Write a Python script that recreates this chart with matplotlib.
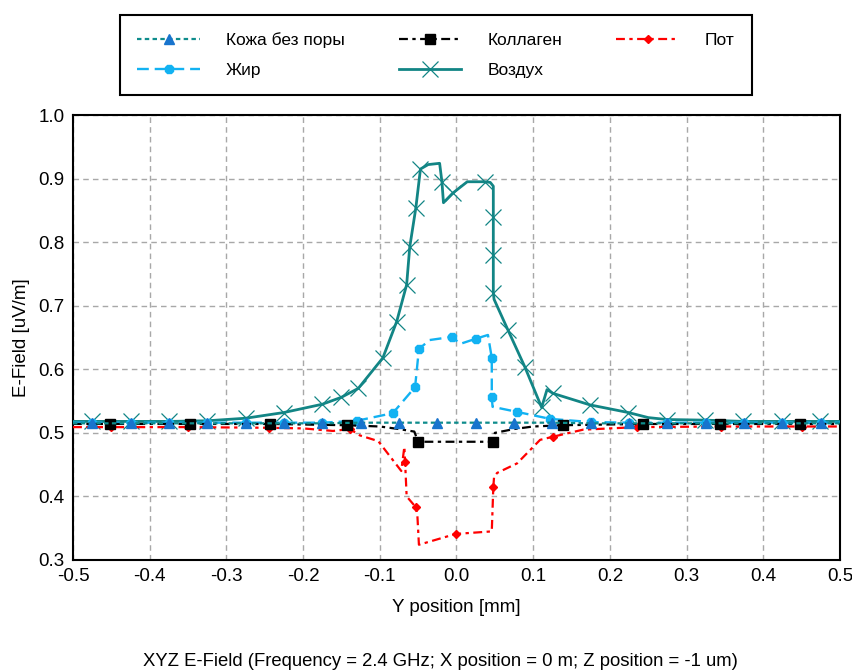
import matplotlib
matplotlib.use('Agg')
import matplotlib.pyplot as plt

plt.rcParams['font.family'] = ['Liberation Sans', 'DejaVu Sans']
plt.rcParams['font.size'] = 13

# Кожа без поры.
skin_x = [-0.5, -0.475, -0.425, -0.375, -0.325, -0.275, -0.225, -0.175, -0.125, -0.075, -0.025,
          0.025, 0.075, 0.125, 0.175, 0.225, 0.275, 0.325, 0.375, 0.425, 0.475, 0.5]
skin_y = [0.515, 0.515, 0.515, 0.515, 0.515, 0.515, 0.515, 0.515, 0.516, 0.516, 0.516,
          0.516, 0.516, 0.516, 0.515, 0.515, 0.515, 0.515, 0.515, 0.515, 0.515, 0.515]
skin_marks = list(range(1, 21))

# Жир.
fat_x = [-0.5, -0.475, -0.425, -0.375, -0.325, -0.275, -0.225, -0.175, -0.13, -0.083, -0.054, -0.049,
         -0.035, -0.006, 0.005, 0.025, 0.041, 0.046, 0.046, 0.047, 0.079, 0.122, 0.175, 0.225,
         0.275, 0.325, 0.375, 0.425, 0.475, 0.5]
fat_y = [0.516, 0.516, 0.516, 0.516, 0.516, 0.516, 0.516, 0.516, 0.519, 0.531, 0.572, 0.632,
         0.646, 0.651, 0.640, 0.648, 0.654, 0.618, 0.557, 0.541, 0.533, 0.522, 0.517, 0.516,
         0.516, 0.516, 0.516, 0.516, 0.516, 0.516]
fat_marks = [1, 2, 3, 4, 5, 6, 7, 8, 9, 10, 11, 13, 15, 17, 18, 20, 21, 22, 23, 24, 25, 26, 27, 28]

# Коллаген.
col_x = [-0.5, -0.452, -0.347, -0.243, -0.143, -0.1, -0.075, -0.055, -0.05, 0.048, 0.05, 0.075,
         0.1, 0.139, 0.243, 0.344, 0.448, 0.5]
col_y = [0.514, 0.514, 0.514, 0.514, 0.512, 0.510, 0.506, 0.502, 0.486, 0.486, 0.500, 0.506,
         0.510, 0.512, 0.514, 0.514, 0.514, 0.514]
col_marks = [1, 2, 3, 4, 8, 9, 13, 14, 15, 16]

# Воздух.
air_x = [-0.5, -0.475, -0.425, -0.375, -0.325, -0.275, -0.225, -0.175, -0.15, -0.128, -0.096,
         -0.078, -0.065, -0.061, -0.053, -0.047, -0.037, -0.022, -0.019, -0.017, -0.005, 0.014,
         0.037, 0.044, 0.048, 0.048, 0.048, 0.048, 0.049, 0.067, 0.089, 0.111, 0.118, 0.126,
         0.174, 0.224, 0.25, 0.274, 0.324, 0.374, 0.424, 0.474, 0.5]
air_y = [0.518, 0.518, 0.518, 0.518, 0.519, 0.523, 0.532, 0.545, 0.556, 0.570, 0.618,
         0.675, 0.733, 0.792, 0.854, 0.915, 0.922, 0.924, 0.895, 0.862, 0.877, 0.895,
         0.895, 0.894, 0.888, 0.840, 0.780, 0.720, 0.710, 0.662, 0.604, 0.540, 0.568, 0.562,
         0.544, 0.532, 0.524, 0.521, 0.520, 0.518, 0.518, 0.518, 0.518]
air_marks = [1, 2, 3, 4, 5, 6, 7, 8, 9, 10, 11, 12, 13, 14, 15, 18, 20, 22, 25, 26, 27, 29, 30,
             31, 33, 34, 35, 37, 38, 39, 40, 41]

# Пот.
sw_x = [-0.5, -0.45, -0.35, -0.245, -0.2, -0.161, -0.139, -0.126, -0.102, -0.072, -0.068, -0.067,
        -0.065, -0.053, -0.051, -0.049, -0.001, 0.046, 0.048, 0.049, 0.053, 0.079, 0.109, 0.126,
        0.165, 0.235, 0.345, 0.45, 0.5]
sw_y = [0.509, 0.509, 0.509, 0.508, 0.507, 0.503, 0.506, 0.496, 0.487, 0.440, 0.478, 0.454,
        0.400, 0.383, 0.370, 0.324, 0.341, 0.345, 0.415, 0.431, 0.437, 0.452, 0.489, 0.494,
        0.505, 0.509, 0.510, 0.510, 0.510]
sw_marks = [1, 2, 3, 6, 11, 13, 16, 18, 23, 25, 26, 27]

fig = plt.figure(figsize=(8.52, 6.72), dpi=100)
ax = fig.add_axes([73 / 852, 1 - 560 / 672, 767 / 852, 445 / 672])

ax.plot(air_x, air_y, color='#128585', lw=2.0, marker='x', ms=11, mew=0.9,
        markevery=air_marks, label='Воздух', zorder=3)
ax.plot(sw_x, sw_y, color='#FF0000', lw=1.6, dashes=(4, 2, 1.5, 2), marker='D', ms=4.5,
        markevery=sw_marks, label='Пот', zorder=4)
ax.plot(fat_x, fat_y, color='#12B2F2', lw=1.7, dashes=(5, 2.5), marker='8', ms=7,
        markevery=fat_marks, label='Жир', zorder=4)
ax.plot(col_x, col_y, color='black', lw=1.6, dashes=(4, 2, 1.5, 2), marker='s', ms=6.5,
        markevery=col_marks, label='Коллаген', zorder=5)
ax.plot(skin_x, skin_y, color='#0E8C8C', lw=1.6, dashes=(2, 1.5), marker='^', ms=7,
        mfc='#1874CD', mec='#1874CD', markevery=skin_marks, label='Кожа без поры', zorder=6)

ax.set_xlim(-0.5, 0.5)
ax.set_ylim(0.3, 1.0)
ax.set_xticks([-0.5, -0.4, -0.3, -0.2, -0.1, 0.0, 0.1, 0.2, 0.3, 0.4, 0.5])
ax.set_yticks([0.3, 0.4, 0.5, 0.6, 0.7, 0.8, 0.9, 1.0])
ax.xaxis.set_major_formatter(matplotlib.ticker.FormatStrFormatter('%.1f'))
ax.yaxis.set_major_formatter(matplotlib.ticker.FormatStrFormatter('%.1f'))
ax.tick_params(length=0, pad=6, labelsize=13.5)
ax.grid(True, color='#A8A8A8', lw=1, dashes=(4, 3))
for s in ax.spines.values():
    s.set_linewidth(1.5)
    s.set_color('black')

ax.set_xlabel('Y position [mm]', fontsize=13.5, labelpad=10)
ax.set_ylabel('E-Field [uV/m]', fontsize=13.5, labelpad=6)
fig.text(440 / 852, 1 - 662 / 672, 'XYZ E-Field (Frequency = 2.4 GHz; X position = 0 m; Z position = -1 um)',
         ha='center', va='center', fontsize=13.3)

# Легенда сверху.
h, l = ax.get_legend_handles_labels()
order = [4, 2, 3, 0, 1]
leg = fig.legend([h[i] for i in order], [l[i] for i in order], ncol=3,
                 bbox_to_anchor=(120 / 852, 1 - 97 / 672, 632 / 852, 84 / 672),
                 loc='center', mode='expand', borderaxespad=0, fancybox=False,
                 edgecolor='black', framealpha=1, handlelength=3.6, handletextpad=1.5,
                 labelspacing=0.85, borderpad=1.0, numpoints=1, fontsize=12.5)
leg.get_frame().set_linewidth(1.5)

fig.savefig('out.png', dpi=100)
